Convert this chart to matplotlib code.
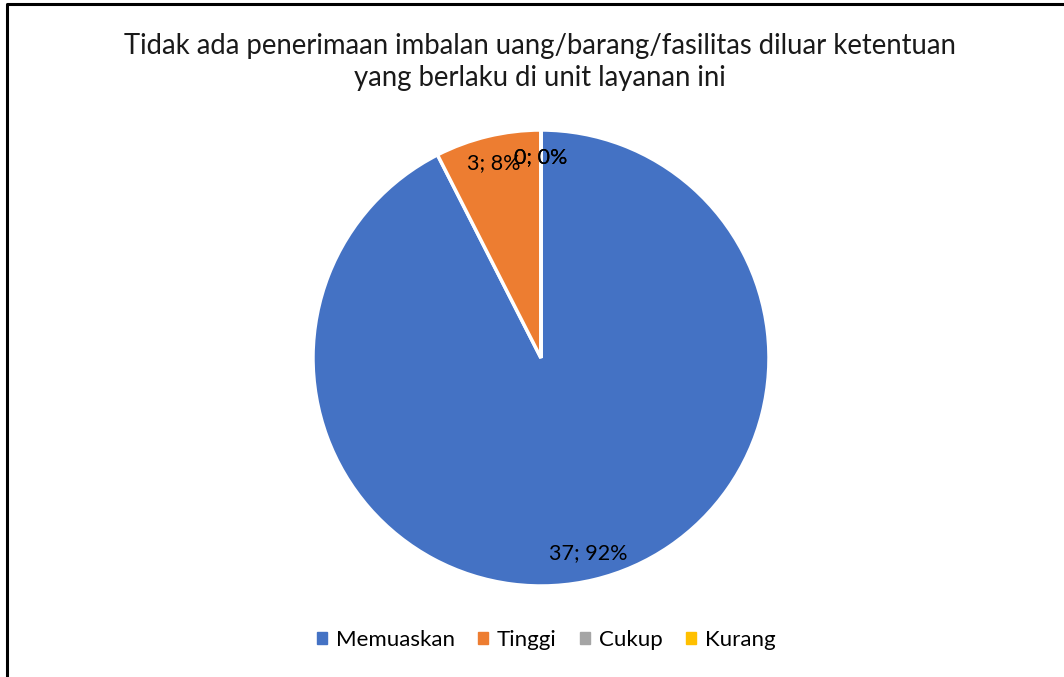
import matplotlib
matplotlib.use("Agg")
import matplotlib.pyplot as plt
from matplotlib.lines import Line2D

plt.rcParams['font.family'] = ['Lato', 'DejaVu Sans']

title = "Tidak ada penerimaan imbalan uang/barang/fasilitas diluar ketentuan\nyang berlaku di unit layanan ini"
categories = ["Memuaskan", "Tinggi", "Cukup", "Kurang"]
values = [37, 3, 0, 0]
colors = ["#4472C4", "#ED7D31", "#A5A5A5", "#FFC000"]

W, H = 1064, 677
fig = plt.figure(figsize=(W / 100, H / 100), dpi=100)

total = sum(values)
labels = [f"{v}; {round(100 * v / total)}%" for v in values]

cx, cy, r = 541, 358, 228
ax = fig.add_axes([(cx - r) / W, (H - cy - r) / H, 2 * r / W, 2 * r / H])
wedges, texts = ax.pie(values, colors=colors, startangle=90, counterclock=False,
                       labels=labels, labeldistance=0.88,
                       wedgeprops=dict(edgecolor="white", linewidth=2.5),
                       textprops=dict(fontsize=15.5, color="black", ha="center", va="center"))
for t in texts:
    t.set_horizontalalignment("center")
ax.set_xlim(-1, 1)
ax.set_ylim(-1, 1)
ax.set_aspect("equal")
ax.axis("off")

fig.text(540 / W, 1 - 62 / H, title, ha="center", va="center", fontsize=19.8,
         linespacing=1.3, color="#1a1a1a")

handles = [plt.Rectangle((0, 0), 1, 1, color=c) for c in colors]
fig.legend(handles, categories, loc="center", bbox_to_anchor=(546 / W, 1 - 640 / H),
           ncol=4, frameon=False, fontsize=16, handlelength=0.45, handleheight=0.45,
           handletextpad=0.4, columnspacing=1.05)

fig.add_artist(Line2D([7 / W, 7 / W, 1], [0, 1 - 4 / H, 1 - 4 / H],
                      transform=fig.transFigure, color="black", linewidth=2.2))

fig.savefig("out.png", dpi=100)
